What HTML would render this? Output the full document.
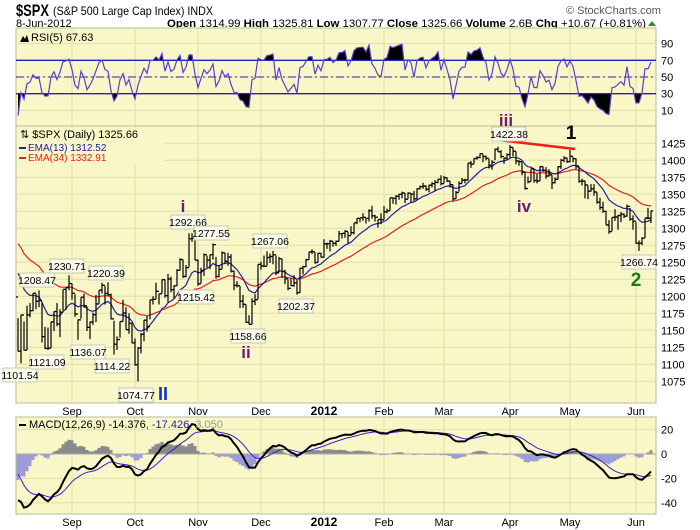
<!DOCTYPE html>
<html><head><meta charset="utf-8"><style>
body{margin:0;background:#fff;}
svg{display:block;font-family:"Liberation Sans",sans-serif;}
</style></head><body>
<svg id="c" width="700" height="530" viewBox="0 0 700 530">
<text x="16" y="16" font-size="17" font-weight="bold" textLength="33" lengthAdjust="spacingAndGlyphs">$SPX</text>
<text x="53" y="15" font-size="12" textLength="160" lengthAdjust="spacingAndGlyphs">(S&amp;P 500 Large Cap Index) INDX</text>
<text x="566" y="14" font-size="11" fill="#555">© StockCharts.com</text>
<text x="16" y="27" font-size="11">8-Jun-2012</text>
<text x="167" y="27" font-size="11" textLength="479" lengthAdjust="spacingAndGlyphs"><tspan font-weight="bold">Open</tspan> 1314.99 <tspan font-weight="bold">High</tspan> 1325.81 <tspan font-weight="bold">Low</tspan> 1307.77 <tspan font-weight="bold">Close</tspan> 1325.66 <tspan font-weight="bold">Volume</tspan> 2.6B <tspan font-weight="bold">Chg</tspan> +10.67 (+0.81%)</text>
<path d="M648 26 L652 21 L656 26 Z" fill="#1a9a1a"/>
<g id="rsiP"></g>
<g id="mainP"></g>
<g id="macdP"></g>
</svg>
<script>
const monthLabels=["Sep","Oct","Nov","Dec","2012","Feb","Mar","Apr","May","Jun"];
const monthIdx=[18,39,60,81,102,122,142,164,184,206];
const closes=[1119.46,1172.53,1120.76,1172.64,1178.81,1204.49,1192.76,1193.89,1140.65,1123.53,1123.82,1162.35,1177.60,1159.27,1176.80,1210.08,1212.92,1218.89,
1204.42,1173.97,1165.24,1198.62,1185.90,1154.23,1162.27,1172.87,1188.68,1209.11,1216.01,1204.09,1202.09,1166.76,1129.56,1136.43,1162.95,1175.38,1151.06,1160.40,1131.42,
1099.23,1123.95,1144.03,1164.97,1155.46,1194.89,1195.54,1207.25,1203.66,1224.58,1200.86,1225.38,1209.88,1215.39,1238.25,1254.19,1229.05,1242.00,1284.59,1285.09,1253.30,
1218.28,1237.90,1261.15,1253.23,1261.12,1275.92,1229.10,1239.70,1263.85,1251.78,1257.81,1236.91,1216.13,1215.65,1192.98,1188.04,1161.79,1158.67,1192.55,1195.19,1246.96,
1244.58,1244.28,1257.08,1258.47,1261.01,1234.35,1255.19,1236.47,1225.73,1211.82,1215.75,1219.66,1205.35,1241.30,1243.72,1254.00,1265.33,1265.43,1249.64,1263.02,1257.60,
1277.06,1277.30,1281.06,1277.81,1280.70,1292.08,1292.48,1295.50,1289.09,1293.67,1308.04,1314.50,1315.38,1316.00,1314.65,1326.06,1318.43,1316.33,1313.01,1312.41,
1324.09,1325.54,1344.90,1344.33,1347.05,1349.96,1351.95,1342.64,1351.77,1350.50,1343.23,1358.04,1361.23,1362.21,1357.66,1363.46,1365.74,1367.59,1372.18,1365.68,
1374.09,1369.63,1364.33,1343.36,1352.63,1365.91,1370.87,1371.09,1395.95,1394.28,1402.60,1404.17,1409.75,1405.52,1402.89,1392.78,1397.11,1416.51,1412.52,1405.54,1403.28,1408.47,
1419.04,1413.38,1398.96,1398.08,1382.20,1358.59,1368.71,1387.57,1370.26,1369.57,1390.78,1385.14,1376.92,1378.53,1366.94,1371.97,1390.69,1399.98,1403.36,1397.91,
1405.82,1402.31,1391.57,1369.10,1369.58,1363.72,1354.58,1357.99,1353.39,1338.35,1330.66,1324.80,1304.86,1295.22,1315.99,1316.63,1318.86,1320.68,1317.82,1332.42,1313.32,1310.33,
1278.04,1278.18,1285.50,1315.13,1314.99,1325.66];
const highs=[1168,1172.9,1163,1186,1190,1204.5,1204,1208.5,1191,1155,1154,1162.5,1178,1190,1181,1210,1213,1230.7,
1219,1203,1166,1198.6,1204,1185,1163,1176,1202,1209,1220,1215,1220.4,1204,1164,1141,1163,1195,1184,1175,1160,
1138,1125,1146,1165,1171,1194.9,1200,1220,1203.7,1224.6,1224.6,1233,1229,1216,1240,1256,1254,1246,1292.7,1293,1284,
1254,1242,1263,1260,1261,1277.6,1258,1246,1266,1264,1264,1262,1238,1222,1215,1202,1188,1172,1197,1203,1247,
1251,1260,1266,1263,1267.1,1260,1258,1255,1239,1225,1226,1231,1224,1242,1245,1255,1265,1269,1265,1264,1264,
1284,1279,1283,1281,1282,1296,1293,1297,1295,1303,1308,1315,1315.5,1322,1315,1328,1333,1320,1313,1322,
1333,1329,1345,1345,1349,1351,1354,1352,1353,1351,1355,1359,1363,1367,1363,1364,1368,1371,1373,1378,
1377,1375,1370,1364,1355,1369,1374,1373,1396,1399,1403,1406,1410,1409,1407,1402,1400,1417,1420,1415,1404,1410,
1422.4,1419,1413,1400,1397,1383,1376,1388,1387,1380,1391,1391,1390,1387,1378,1375,1391,1402,1406,1404,
1415.3,1405,1403,1391,1373,1370,1363,1365,1365,1353,1345,1339,1326,1312,1316,1328,1320,1324,1322,1335,1330,1319,
1309,1282,1287,1315,1330,1325.8];
const lows=[1119,1101.5,1120,1121.1,1169,1178,1181,1184,1132,1122,1121,1124,1149,1156,1140,1179,1180,1209,
1195,1170,1136.1,1167,1183,1149,1137,1158,1162,1189,1204,1188,1201,1166,1114.2,1121,1139,1163,1151,1145,1131,
1098,1074.8,1116,1134,1148,1166,1188,1196,1188,1204,1198,1191,1206,1197,1215,1238,1227,1228,1243,1280,1253,
1215.4,1219,1230,1242,1240,1254,1226,1228,1240,1248,1245,1235,1209,1213,1183,1183,1161,1158.7,1159,1187,1196,
1239,1243,1245,1249,1247,1231,1235,1227,1218,1209,1215,1214,1202.4,1205,1232,1243,1254,1262,1248,1250,1257,
1257,1270,1266,1273,1274,1281,1285,1286,1278,1290,1291,1306,1309,1311,1307,1310,1314,1310,1301,1306,
1313,1322,1326,1336,1335,1342,1344,1337,1343,1338,1340,1343,1357,1358,1355,1353,1360,1355,1366,1363,
1366,1368,1360,1340,1343,1354,1366,1366,1370,1389,1395,1401,1403,1397,1400,1388,1386,1400,1412,1403,1395,1401,
1404,1406,1394,1392,1378,1357,1366,1369,1367,1366,1370,1383,1373,1376,1358,1366,1372,1387,1397,1396,
1397,1397,1387,1367,1363,1344,1343,1354,1348,1336,1327,1323,1305,1292,1296,1311,1298,1309,1315,1317,1311,1298,
1277,1266.7,1275,1286,1313,1307.8];
const priceTicks=[1075,1100,1125,1150,1175,1200,1225,1250,1275,1300,1325,1350,1375,1400,1425];
const rsiTicks=[10,30,50,70,90];
const macdTicks=[-40,-20,0,20];
// indicator seeds (values just before first visible bar)
const ema13Seed=1253, ema34Seed=1287, ema12Seed=1245, ema26Seed=1275, signalSeed=-11;
const rsiGainSeed=1.5, rsiLossSeed=20;
const annotations=[["1101.54",20,375],["1208.47",37,280],["1230.71",67,266],["1121.09",47,362],["1220.39",106,273],["1136.07",88,352],["1114.22",112,366],["1074.77",136,395],["1292.66",188,222],["1277.55",211,233],["1215.42",196,297],["1158.66",248,336],["1267.06",270,241],["1202.37",296,306],["1422.38",509,134],["1266.74",639,262]];

const NS="http://www.w3.org/2000/svg";
function mk(parent,tag,attrs,name,text){const e=document.createElementNS(NS,tag);for(const k in attrs)e.setAttribute(k,attrs[k]);


if(text!==undefined)e.textContent=text;parent.appendChild(e);return e;}
const L=16,R=656;
const x=i=>18+3*i;
const yP=p=>143.3+(1425-p)*0.68;
const yR=v=>77-(v-50)*0.8333;
const yM=v=>454-v*1.22;
const BG="#f9f7c8",GRID="#e2dea8",BORDER="#bdbb98";
function panel(g,top,bot,ticks,yf,name){
  mk(g,'rect',{x:L,y:top,width:R-L,height:bot-top,fill:BG,stroke:BORDER},name+'-bg');
  ticks.forEach(t=>{mk(g,'line',{x1:L,x2:R,y1:yf(t),y2:yf(t),stroke:GRID},name+'-gridline');
    mk(g,'text',{x:661,y:yf(t)+4,'font-size':11},name+'-tick-label',String(t));});
  monthIdx.forEach(m=>mk(g,'line',{x1:x(m),x2:x(m),y1:top,y2:bot,stroke:GRID},name+'-month-gridline'));
}
const e13=[],e34=[],macd=[],sig=[],rsi=[];
let a=ema13Seed,b=ema34Seed,c12=ema12Seed,c26=ema26Seed,s=signalSeed,ag=rsiGainSeed,al=rsiLossSeed;
closes.forEach((c,i)=>{a+= (c-a)*2/14;b+=(c-b)*2/35;c12+=(c-c12)*2/13;c26+=(c-c26)*2/27;
 const m=c12-c26;s+=(m-s)*2/10;e13.push(a);e34.push(b);macd.push(m);sig.push(s);
 const prev=i?closes[i-1]:1199.38;const d=c-prev;ag=(ag*4+Math.max(d,0))/5;al=(al*4+Math.max(-d,0))/5;rsi.push(100-100/(1+ag/al));});
const rp=document.getElementById('rsiP');
panel(rp,28,126,rsiTicks,yR,'rsi');
const rpts=rsi.map((v,i)=>x(i)+','+yR(v).toFixed(1));
const dfs=mk(rp,'defs',{},'rsi-defs');
const c1=mk(dfs,'clipPath',{id:'above70'},'clip-above');mk(c1,'rect',{x:L,y:28,width:R-L,height:yR(70)-28},'clip-rect');
const c2=mk(dfs,'clipPath',{id:'below30'},'clip-below');mk(c2,'rect',{x:L,y:yR(30),width:R-L,height:126-yR(30)},'clip-rect');
mk(rp,'polygon',{points:x(0)+','+yR(70)+' '+rpts.join(' ')+' '+x(closes.length-1)+','+yR(70),fill:'#000','clip-path':'url(#above70)'},'rsi-overbought-fill');
mk(rp,'polygon',{points:x(0)+','+yR(30)+' '+rpts.join(' ')+' '+x(closes.length-1)+','+yR(30),fill:'#000','clip-path':'url(#below30)'},'rsi-oversold-fill');
mk(rp,'line',{x1:L,x2:R,y1:yR(70),y2:yR(70),stroke:'#2222c0','stroke-width':1.3},'rsi-70-line');
mk(rp,'line',{x1:L,x2:R,y1:yR(30),y2:yR(30),stroke:'#2222c0','stroke-width':1.3},'rsi-30-line');
mk(rp,'line',{x1:L,x2:R,y1:yR(50),y2:yR(50),stroke:'#2222c0','stroke-dasharray':'8,3,2,3'},'rsi-50-line');
mk(rp,'polyline',{points:rpts.join(' '),fill:'none',stroke:'#5a40d0','stroke-width':1.2},'rsi-line');
mk(rp,'path',{d:'M20 42 L23 36 L25 39 L27 35 L29 42 Z',fill:'#000'},'rsi-legend-icon');
mk(rp,'text',{x:31,y:41,'font-size':11},'rsi-legend','RSI(5) 67.63');
const mp=document.getElementById('mainP');
panel(mp,126,403,priceTicks,yP,'price');
mk(mp,'polyline',{points:e34.map((v,i)=>x(i)+','+yP(v).toFixed(1)).join(' '),fill:'none',stroke:'#e82020','stroke-width':1.2},'ema34-line');
mk(mp,'polyline',{points:e13.map((v,i)=>x(i)+','+yP(v).toFixed(1)).join(' '),fill:'none',stroke:'#2020a0','stroke-width':1.2},'ema13-line');
closes.forEach((c,i)=>{
  mk(mp,'path',{d:`M${x(i)} ${yP(highs[i]).toFixed(1)}V${yP(lows[i]).toFixed(1)}M${x(i)} ${yP(c).toFixed(1)}h2M${x(i)-2} ${yP(i?closes[i-1]:1199).toFixed(1)}h2`,stroke:'#000','stroke-width':1.2,fill:'none'},'price-bar');
});
mk(mp,'line',{x1:498,y1:140,x2:575,y2:149,stroke:'#ee1c1c','stroke-width':2.5},'trendline');
annotations.forEach(([t,cx,cy])=>{
  mk(mp,'rect',{x:cx-17,y:cy-7,width:34,height:14,fill:'#fbfbee',stroke:'#c8c8b0'},'price-annotation-box');
  mk(mp,'text',{x:cx,y:cy+4,'font-size':10.5,'text-anchor':'middle'},'price-annotation',t);
});
const waves=[["i",183,212,'#6a1a7a',17],["ii",246,358,'#6a1a7a',17],["II",163,400,'#1a2ad0',18],["iii",506,126,'#6a1a7a',17],["iv",524,212,'#6a1a7a',17],["1",571,139,'#000',19],["2",636,286,'#1a7a1a',19]];
waves.forEach(([t,wx,wy,col,fs])=>mk(mp,'text',{x:wx,y:wy,'font-size':fs,'font-weight':'bold',fill:col,'text-anchor':'middle'},'wave-label',t));
mk(mp,'rect',{x:17,y:128,width:148,height:36,fill:BG},'legend-bg');
mk(mp,'text',{x:20,y:138,'font-size':11},'price-legend','⇅ $SPX (Daily) 1325.66');
mk(mp,'rect',{x:19,y:147,width:7,height:2,fill:'#2020a0'},'ema13-legend-swatch');
mk(mp,'text',{x:28,y:151,'font-size':10,fill:'#2020a0'},'ema13-legend','EMA(13) 1312.52');
mk(mp,'rect',{x:19,y:157,width:7,height:2,fill:'#e82020'},'ema34-legend-swatch');
mk(mp,'text',{x:28,y:161,'font-size':10,fill:'#e82020'},'ema34-legend','EMA(34) 1332.91');
[411,522].forEach((yy,k)=>monthLabels.forEach((m,j)=>mk(document.getElementById('c'),'text',{x:x(monthIdx[j]),y:yy+4,'font-size':m==="2012"?12:11,'font-weight':m==="2012"?'bold':'normal','text-anchor':'middle'},k?'macd-x-axis-label':'price-x-axis-label',m)));
const mc=document.getElementById('macdP');
panel(mc,417,514,macdTicks,yM,'macd');
macd.forEach((m,i)=>{const h=m-sig[i];
  mk(mc,'rect',{x:x(i)-1.5,y:Math.min(yM(0),yM(h)).toFixed(1),width:3,height:Math.abs(h*1.22).toFixed(1),fill:h>=0?'#8a8a8a':'#9c9cd6'},'macd-histogram-bar');});
mk(mc,'line',{x1:L,x2:R,y1:yM(0),y2:yM(0),stroke:'#aaa'},'macd-zero-line');
mk(mc,'polyline',{points:sig.map((v,i)=>x(i)+','+yM(v).toFixed(1)).join(' '),fill:'none',stroke:'#3a20d0','stroke-width':1},'macd-signal-line');
mk(mc,'polyline',{points:macd.map((v,i)=>x(i)+','+yM(v).toFixed(1)).join(' '),fill:'none',stroke:'#000','stroke-width':2},'macd-line');
mk(mc,'rect',{x:19,y:424,width:7,height:2,fill:'#000'},'macd-legend-swatch');
const lt=mk(mc,'text',{x:29,y:428,'font-size':11},'macd-legend','MACD(12,26,9) -14.376');
mk(lt,'tspan',{fill:'#2020c0'},'macd-signal-legend',', -17.426');
mk(lt,'tspan',{fill:'#999'},'macd-hist-legend',', 3.050');
</script>
</body></html>
